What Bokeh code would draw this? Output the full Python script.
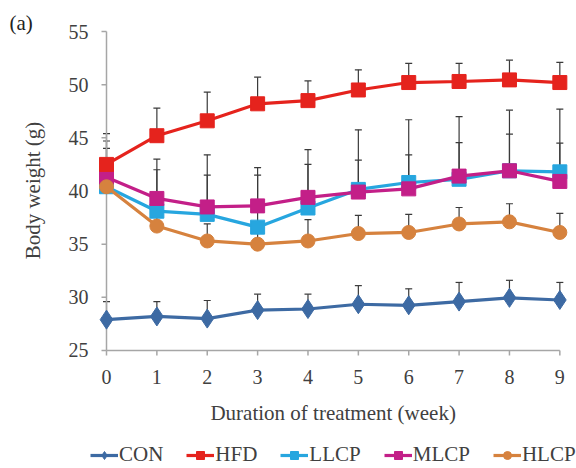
import math
from bokeh.plotting import figure
from bokeh.models import (ColumnDataSource, Whisker, TeeHead, Legend, LegendItem, Range1d)
from bokeh.core.properties import value
from bokeh.embed import file_html
from bokeh.resources import INLINE

weeks = [0, 1, 2, 3, 4, 5, 6, 7, 8, 9]
x_ticks = [0, 1, 2, 3, 4, 5, 6, 7, 8, 9]
y_ticks = [25, 30, 35, 40, 45, 50, 55]
x_tick_labels = [str(t) for t in x_ticks]
y_tick_labels = [str(t) for t in y_ticks]

CON = [27.9, 28.2, 28.0, 28.8, 28.9, 29.35, 29.25, 29.6, 29.95, 29.75]
CON_top = [29.6, 29.6, 29.7, 30.3, 30.3, 31.1, 30.8, 31.4, 31.6, 31.4]
HFD = [42.5, 45.2, 46.6, 48.2, 48.5, 49.5, 50.2, 50.3, 50.45, 50.2]
HFD_top = [45.4, 47.8, 49.3, 50.7, 50.35, 51.4, 52.0, 52.0, 52.3, 52.1]
LLCP = [40.4, 38.1, 37.8, 36.6, 38.4, 40.15, 40.8, 41.1, 41.9, 41.8]
LLCP_top = [44.0, 42.0, 41.5, 42.2, 43.9, 45.75, 46.7, 47.0, 47.6, 47.7]
MLCP = [41.3, 39.3, 38.5, 38.6, 39.4, 39.9, 40.2, 41.4, 41.9, 40.9]
MLCP_top = [44.7, 43.0, 43.4, 41.5, 42.5, 42.9, 43.4, 44.55, 45.35, 44.5]
HLCP = [40.4, 36.7, 35.3, 35.0, 35.3, 36.0, 36.1, 36.9, 37.1, 36.1]
HLCP_top = [42.9, 38.2, 36.9, 36.5, 37.3, 37.7, 37.8, 38.45, 38.8, 37.9]

FONT = "Liberation Serif"
TXT = "#404040"
AXC = "#A6A6A6"

W, H = 576, 468
PX_X = 50.37   # pixels per week
PX_Y = 10.633  # pixels per gram
X0_PX, Y55_PX = 106, 31  # where week 0 / 55 g sit on the canvas

xr = Range1d(-X0_PX / PX_X, (W - X0_PX) / PX_X)
yr = Range1d(55 - (H - Y55_PX) / PX_Y, 55 + Y55_PX / PX_Y)

p = figure(width=W, height=H, x_range=xr, y_range=yr,
           x_axis_location=None, y_axis_location=None,
           output_backend="svg", toolbar_location=None, min_border=0)
p.outline_line_color = None
p.grid.visible = False

# axis lines
p.segment(x0=[x_ticks[0], x_ticks[0]], y0=[y_ticks[0], y_ticks[0]],
          x1=[x_ticks[0], x_ticks[-1]], y1=[y_ticks[-1], y_ticks[0]],
          line_color=AXC, line_width=1.5)
# ticks
p.ray(x=[x_ticks[0]] * len(y_ticks), y=y_ticks, length=5, length_units="screen",
      angle=math.pi, line_color=AXC, line_width=1.5)
p.ray(x=x_ticks, y=[y_ticks[0]] * len(x_ticks), length=5, length_units="screen",
      angle=-math.pi / 2, line_color=AXC, line_width=1.5)
# tick labels
p.text(x=[x_ticks[0] - 18 / PX_X] * len(y_ticks), y=y_ticks, text=y_tick_labels,
       text_font=value(FONT), text_font_size=value("20px"), text_color=TXT,
       text_align="right", text_baseline="middle")
p.text(x=x_ticks, y=[y_ticks[0] - 27 / PX_Y] * len(x_ticks), text=x_tick_labels,
       text_font=value(FONT), text_font_size=value("20px"), text_color=TXT,
       text_align="center", text_baseline="middle")
# axis titles and panel label
p.text(x=[(x_ticks[0] + x_ticks[-1]) / 2], y=[y_ticks[0] - 63 / PX_Y],
       text=["Duration of treatment (week)"],
       text_font=value(FONT), text_font_size=value("21px"), text_color=TXT,
       text_align="center", text_baseline="middle")
p.text(x=[x_ticks[0] - 74 / PX_X], y=[y_ticks[-1] - 159 / PX_Y], text=["Body weight (g)"],
       angle=math.pi / 2,
       text_font=value(FONT), text_font_size=value("21px"), text_color=TXT,
       text_align="center", text_baseline="middle")
p.text(x=[x_ticks[0] - 97 / PX_X], y=[y_ticks[-1] + 9 / PX_Y], text=["(a)"],
       text_font=value(FONT), text_font_size=value("21px"), text_color="#222222",
       text_align="left", text_baseline="middle")

series = [
    ("CON", CON, CON_top, "#3D6AA3", "diamond", 19),
    ("LLCP", LLCP, LLCP_top, "#27A6DF", "square", 14),
    ("MLCP", MLCP, MLCP_top, "#C31F88", "square", 14),
    ("HFD", HFD, HFD_top, "#E5231D", "square", 14),
    ("HLCP", HLCP, HLCP_top, "#D6823E", "circle", 14),
]

for name, vals, tops, color, marker, size in series:
    src = ColumnDataSource(dict(x=weeks, y=vals, top=tops))
    w = Whisker(source=src, base="x", lower="y", upper="top",
                line_color="#3A3A3A", line_width=1.2, lower_head=None,
                upper_head=TeeHead(size=7, line_color="#3A3A3A", line_width=1.2),
                level="underlay")
    p.add_layout(w)

renderers = {}
for name, vals, tops, color, marker, size in series:
    src = ColumnDataSource(dict(x=weeks, y=vals))
    ln = p.line("x", "y", source=src, line_color=color, line_width=3.2)
    sc = p.scatter("x", "y", source=src, marker=marker, size=size,
                   fill_color=color, line_color=color)
    renderers[name] = [ln, sc]

items = [LegendItem(label=n, renderers=renderers[n]) for n in ["CON", "HFD", "LLCP", "MLCP", "HLCP"]]
legend = Legend(items=items, orientation="horizontal", location=(90, 1),
                label_text_font=FONT, label_text_font_size="21px", label_text_color=TXT,
                label_standoff=1, spacing=23, glyph_width=28, glyph_height=20,
                padding=0, margin=0, border_line_color=None, background_fill_alpha=0)
p.add_layout(legend)

open("out.html", "w").write(file_html(p, INLINE))
